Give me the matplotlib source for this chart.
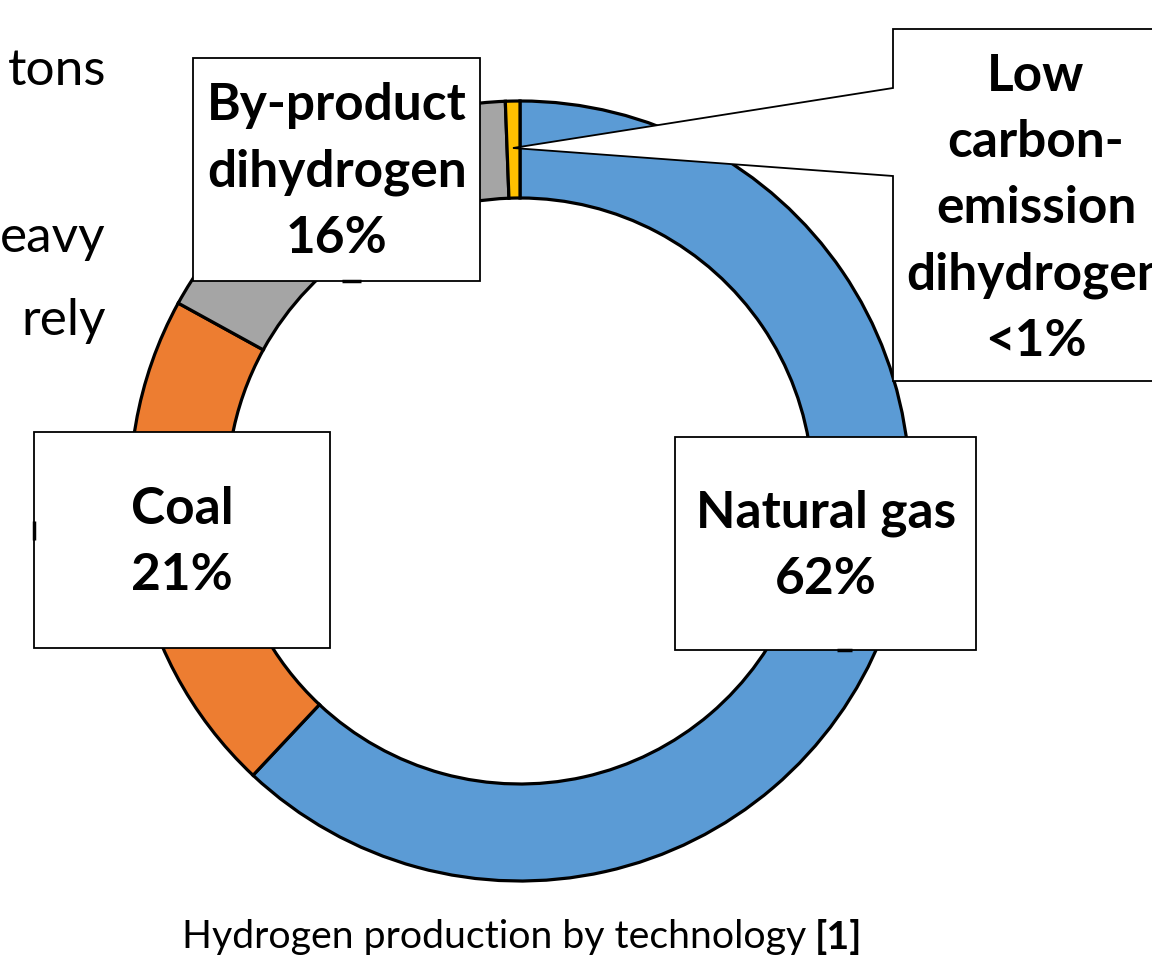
import matplotlib.pyplot as plt
from matplotlib.patches import Rectangle, Polygon

# data (clockwise from 12 o'clock)
categories = ["Natural gas", "Coal", "By-product\ndihydrogen",
              "Low\ncarbon-\nemission\ndihydrogen"]
shares = [62, 21, 16.4, 0.6]
colors = ["#5B9BD5", "#ED7D31", "#A5A5A5", "#FFC000"]
caption = "Hydrogen production by technology"
caption_ref = "[1]"
side_words = ["tons", "eavy", "rely"]


def pct(v):
    # the source writes the tiny slice as "<1%"
    return "<1%" if v < 1 else "%d%%" % round(v)


W, H = 1152, 973
fig = plt.figure(figsize=(W / 100, H / 100), dpi=100)
ax = fig.add_axes([0, 0, 1, 1])

# donut, pixel units, y axis pointing down
ax.pie(shares, colors=colors, radius=390, center=(520, 491),
       startangle=-90, counterclock=True,
       wedgeprops=dict(width=97, edgecolor="black", linewidth=2.3))
ax.set_xlim(0, W)
ax.set_ylim(H, 0)
ax.set_axis_off()

FONT = "Lato"

# label boxes: (x0, y0, x1, y1) and text centre
boxes = [
    ((675, 437, 976, 650), (826, 546)),
    ((34, 432, 330, 648), (182, 543)),
    ((193, 58, 480, 281), (337, 172)),
]
for (x0, y0, x1, y1), _ in boxes:
    ax.add_patch(Rectangle((x0, y0), x1 - x0, y1 - y0, facecolor="white",
                           edgecolor="black", linewidth=1.3, zorder=5))

# callout for the small slice
call = Polygon([(893, 29), (1175, 29), (1175, 381), (893, 381), (893, 176),
                (513, 148), (893, 88)], closed=True, facecolor="white",
               edgecolor="black", linewidth=1.3, zorder=5)
ax.add_patch(call)

centres = [c for _, c in boxes] + [(1036, 209)]
for name, v, (cx, cy) in zip(categories, shares, centres):
    ax.text(cx, cy, name + "\n" + pct(v), ha="center", va="center",
            fontsize=37, fontweight="bold", family=FONT, linespacing=1.5,
            zorder=6)

# little leader stubs left on the box edges
for xs, ys in [([342, 361], [281, 281]), ([34, 34], [521, 540]),
               ([837, 852], [650, 650])]:
    ax.plot(xs, ys, color="black", lw=2.5, solid_capstyle="butt", zorder=7)

# slide text cut off on the left
for word, yb in zip(side_words, [85, 252, 335]):
    ax.text(106, yb, word, ha="right", va="baseline", fontsize=37,
            family=FONT)

t = ax.text(182, 948, caption, ha="left", va="baseline", fontsize=28.3,
            family=FONT)
ax.annotate(caption_ref, xy=(1, 0), xycoords=t, xytext=(9, 0),
            textcoords="offset pixels", ha="left", va="bottom",
            fontsize=28.3, fontweight="bold", family=FONT)

fig.savefig("out.png", dpi=100, facecolor="white")
